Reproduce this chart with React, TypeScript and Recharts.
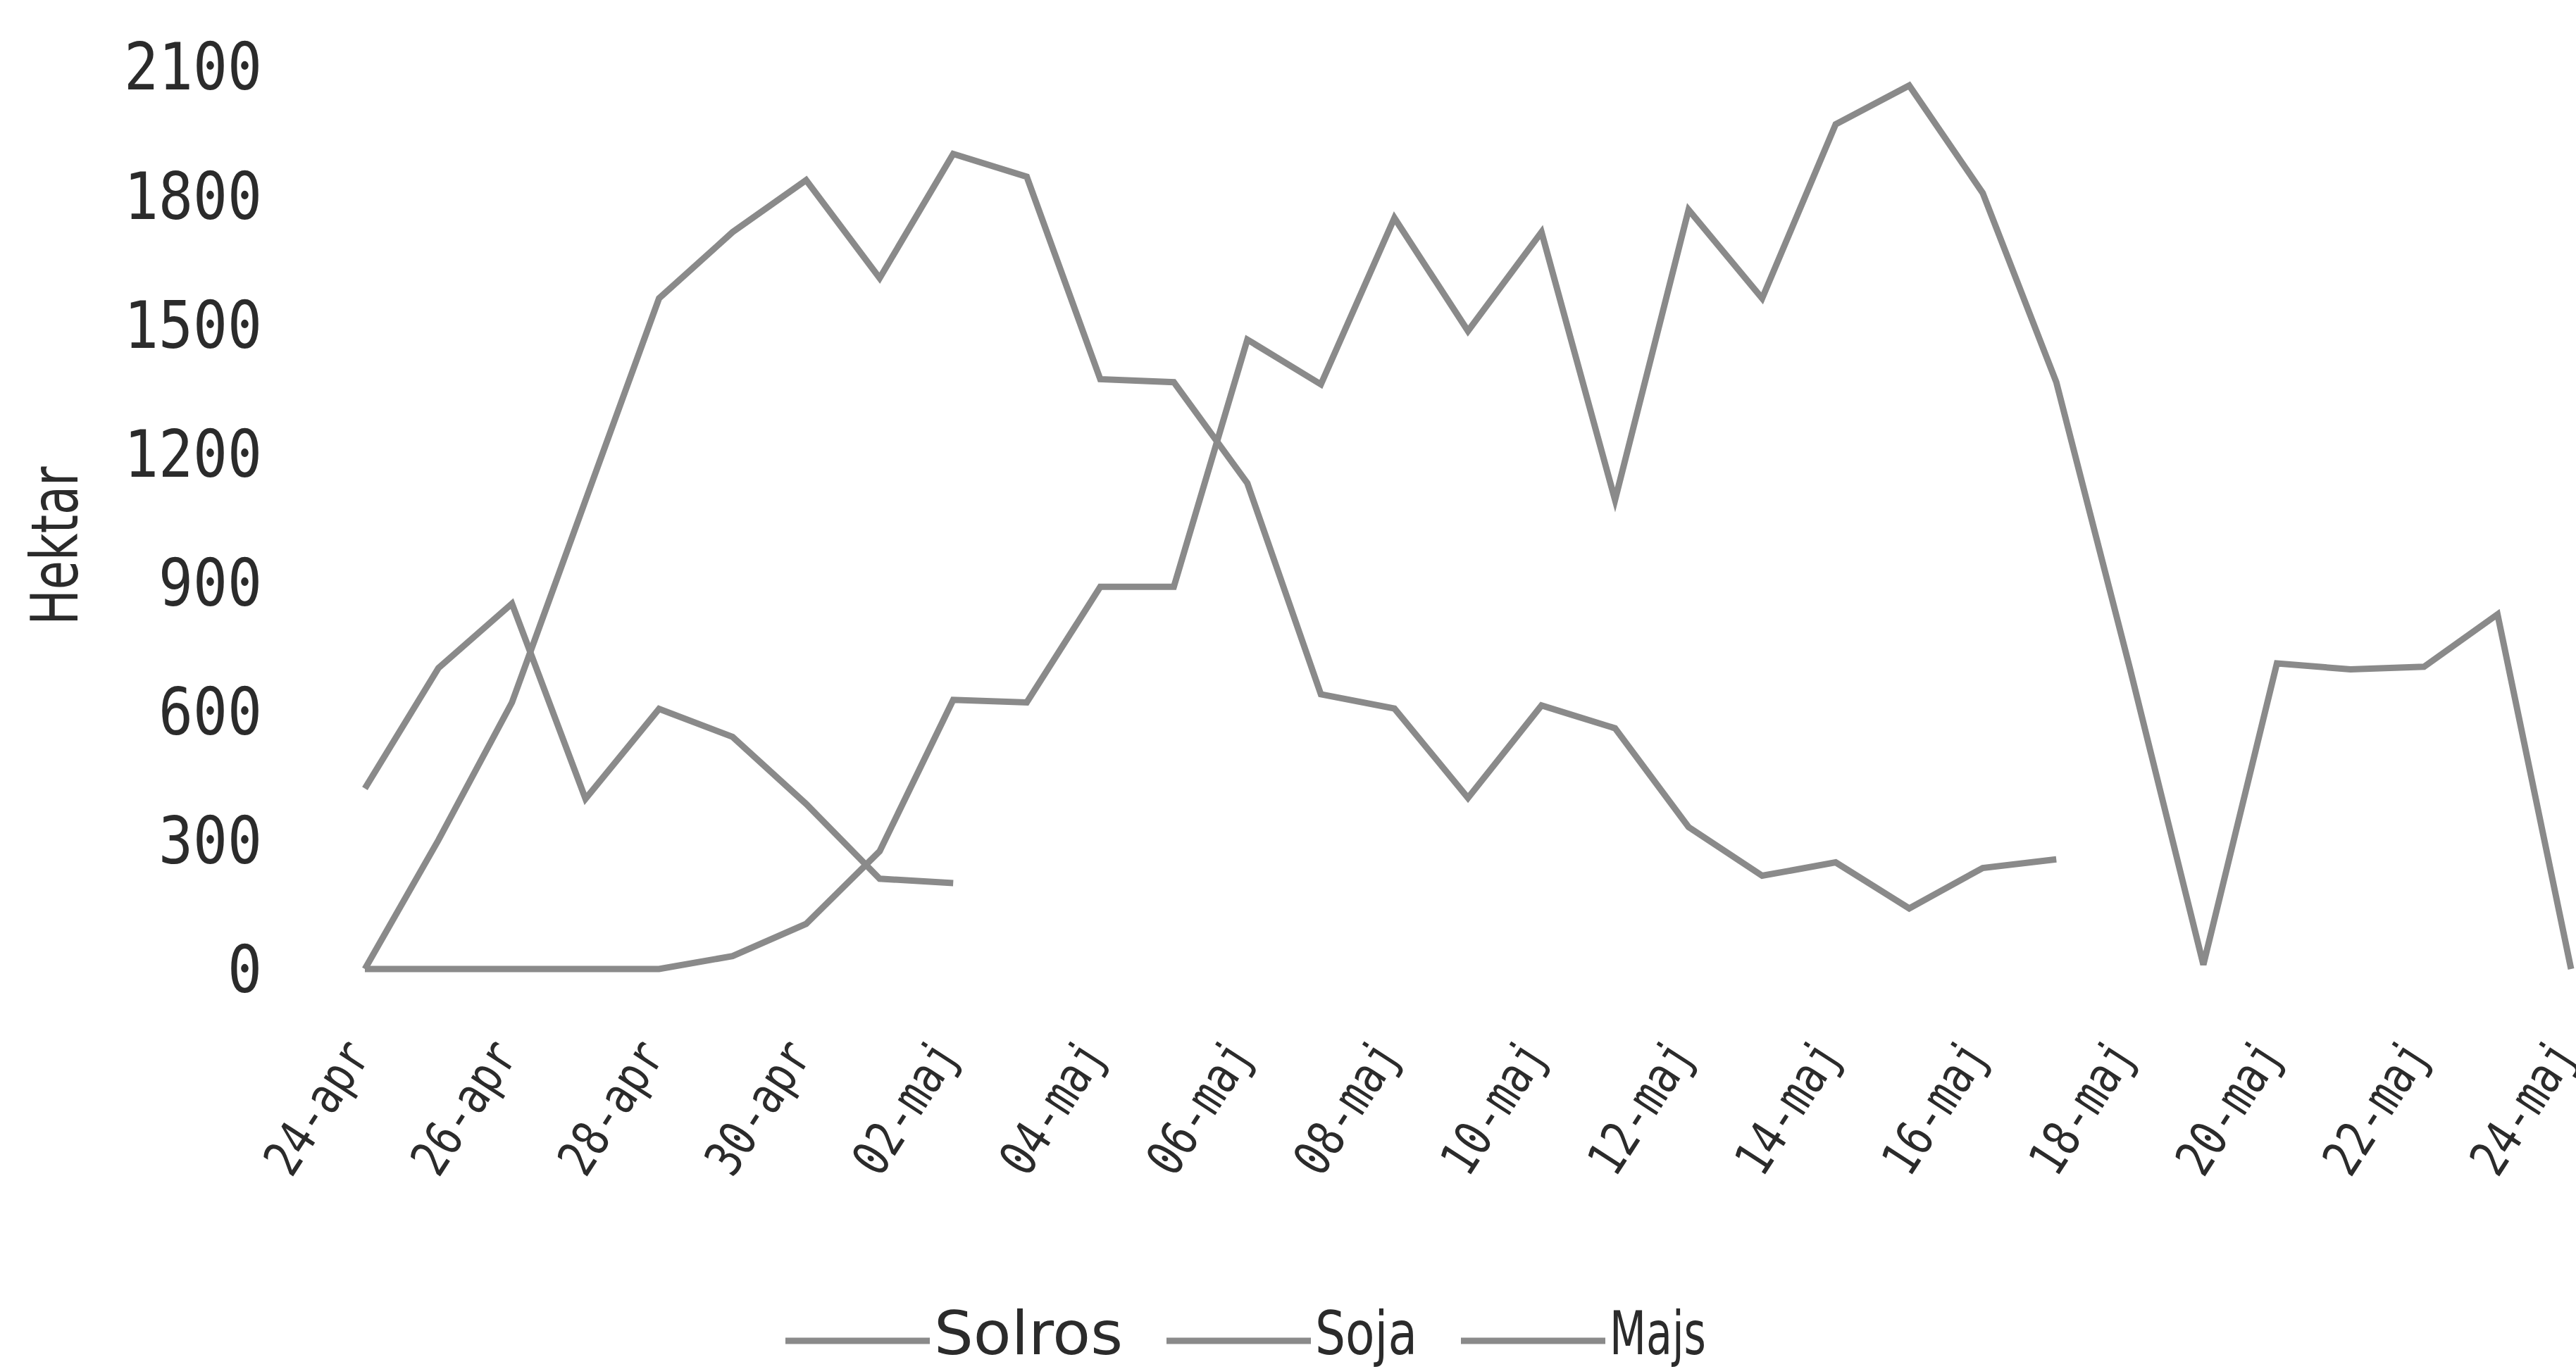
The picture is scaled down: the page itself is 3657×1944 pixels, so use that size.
import React from 'react';
import { LineChart, Line, XAxis, YAxis, Legend } from 'recharts';

const dates = [
  '24-apr', '25-apr', '26-apr', '27-apr', '28-apr', '29-apr', '30-apr',
  '01-maj', '02-maj', '03-maj', '04-maj', '05-maj', '06-maj', '07-maj', '08-maj',
  '09-maj', '10-maj', '11-maj', '12-maj', '13-maj', '14-maj', '15-maj', '16-maj',
  '17-maj', '18-maj', '19-maj', '20-maj', '21-maj', '22-maj', '23-maj', '24-maj',
];

const solros = [420, 700, 850, 396, 605, 540, 384, 210, 200];
const majs = [0, 300, 620, 1090, 1560, 1714, 1835, 1607, 1896, 1843, 1372, 1365, 1130, 639, 606, 398, 613, 560, 330, 217, 248, 141, 235, 255];
const soja = [0, 0, 0, 0, 0, 30, 105, 274, 626, 620, 889, 889, 1464, 1360, 1747, 1484, 1714, 1091, 1766, 1560, 1965, 2055, 1805, 1365, 700, 10, 711, 697, 703, 825, 0];

const yTicks = [0, 300, 600, 900, 1200, 1500, 1800, 2100];
const seriesNames = ['Solros', 'Soja', 'Majs'];

const LINE = '#8a8a8a';
const INK = '#2b2b2b';
const MONO = '"DejaVu Sans Mono", monospace';
const SANS = '"DejaVu Sans", sans-serif';

const data = dates.map((d, i) => ({
  date: d,
  Solros: i < solros.length ? solros[i] : null,
  Soja: i < soja.length ? soja[i] : null,
  Majs: i < majs.length ? majs[i] : null,
}));

function YTick({ x, y, payload }: any) {
  const s = String(payload.value);
  return (
    <text x={x} y={y} dy="0.36em" textAnchor="end" fontFamily={MONO} fontSize={93}
      fill={INK} textLength={s.length * 49} lengthAdjust="spacingAndGlyphs">
      {s}
    </text>
  );
}

function XTick({ x, y, payload }: any) {
  return (
    <g transform={`translate(${x + 10},${y + 122})`}>
      <text transform="rotate(-57)" textAnchor="end" fontFamily={MONO} fontSize={72}
        fill={INK} textLength={210} lengthAdjust="spacingAndGlyphs">
        {payload.value}
      </text>
    </g>
  );
}

function HektarLabel({ viewBox }: any) {
  const cx = (viewBox?.x ?? 0) + 110;
  const cy = (viewBox?.y ?? 94) + (viewBox?.height ?? 1282) / 2 + 40;
  return (
    <text x={cx} y={cy} transform={`rotate(-90 ${cx} ${cy})`} textAnchor="middle"
      fontFamily={SANS} fontSize={92} fill={INK} textLength={225} lengthAdjust="spacingAndGlyphs">
      Hektar
    </text>
  );
}

// legend text widths (the labels in the picture are narrow)
const legendTextW = [268, 145, 137];
const LEGEND_H = 124;

function LegendBox() {
  let cur = 1115;
  const items = seriesNames.map((name, i) => {
    const sx = cur;
    cur += 205 + 6 + legendTextW[i] + 62;
    return (
      <g key={name}>
        <line x1={sx} x2={sx + 205} y1={84} y2={84} stroke={LINE} strokeWidth={9} />
        <text x={sx + 211} y={103} fontFamily={SANS} fontSize={86} fill={INK}
          textLength={legendTextW[i]} lengthAdjust="spacingAndGlyphs">{name}</text>
      </g>
    );
  });
  return (
    <svg width={3657} height={LEGEND_H} style={{ display: 'block' }}>
      {items}
    </svg>
  );
}

export default function App() {
  return (
    <div style={{ position: 'absolute', left: 0, top: 0, width: 3657, height: 1944, background: '#fff' }}>
      <LineChart width={3657} height={1944} data={data} margin={{ top: 94, right: 7, bottom: 0, left: 0 }}>
        <XAxis dataKey="date" interval={1} tickLine={false} axisLine={false} tickSize={0} tickMargin={0}
          height={568 - LEGEND_H} tick={<XTick />} />
        <YAxis domain={[0, 2100]} ticks={yTicks} width={518} tickLine={false} axisLine={false}
          tickSize={0} tickMargin={146} tick={<YTick />}
          label={{ value: 'Hektar', content: (p: any) => <HektarLabel {...p} /> }} />
        <Legend verticalAlign="bottom" height={LEGEND_H} content={() => <LegendBox />}
          wrapperStyle={{ left: 0, bottom: 0, width: 3657, height: LEGEND_H }} />
        <Line type="linear" dataKey="Solros" stroke={LINE} strokeWidth={9} dot={false} isAnimationActive={false} />
        <Line type="linear" dataKey="Soja" stroke={LINE} strokeWidth={9} dot={false} isAnimationActive={false} />
        <Line type="linear" dataKey="Majs" stroke={LINE} strokeWidth={9} dot={false} isAnimationActive={false} />
      </LineChart>
    </div>
  );
}
